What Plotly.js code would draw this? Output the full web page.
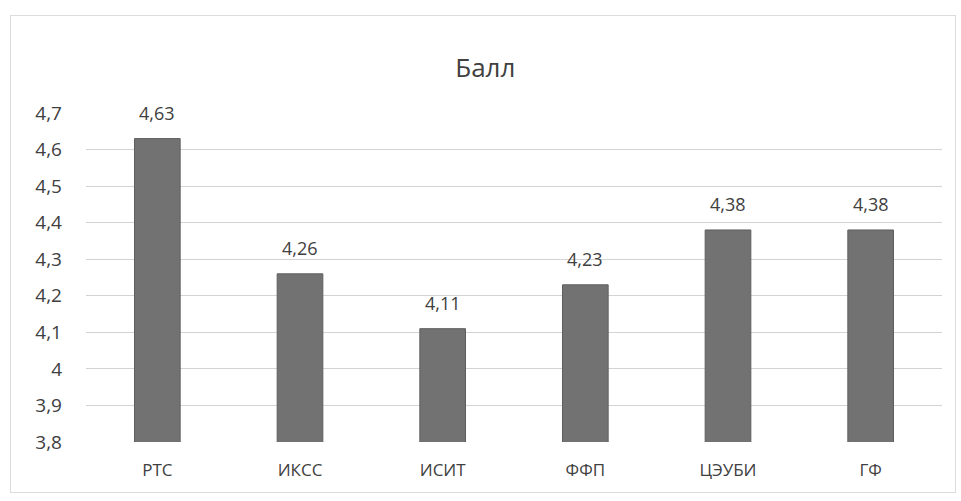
<!DOCTYPE html>
<html>
<head>
<meta charset="utf-8">
<script src="https://cdn.plot.ly/plotly-3.0.1.min.js"></script>
<style>
html,body{margin:0;padding:0;background:#fff;}
#chart{width:961px;height:501px;position:relative;}
#frame{position:absolute;left:10px;top:15px;width:944px;height:476px;border:1px solid #dcdcdc;pointer-events:none;}
</style>
</head>
<body>
<div id="chart"></div>
<div id="frame"></div>
<script>
const categories = ["РТС", "ИКСС", "ИСИТ", "ФФП", "ЦЭУБИ", "ГФ"];
const scores = [4.63, 4.26, 4.11, 4.23, 4.38, 4.38];
const titleText = "Балл";

const fontFamily = "Open Sans, Noto Sans, sans-serif";
const textColor = "#404040";

const trace = {
  type: "bar",
  x: categories,
  y: scores,
  marker: {color: "#727272", line: {color: "#5e5e5e", width: 1}},
  hoverinfo: "skip"
};

const annotations = categories.map((c, i) => ({
  x: c, y: scores[i], xref: "x", yref: "y",
  text: String(scores[i]).replace(".", ","),
  showarrow: false, yanchor: "bottom", yshift: 12,
  font: {family: fontFamily, size: 18, color: textColor}
}));

const layout = {
  width: 961, height: 501,
  margin: {l: 86, r: 19, t: 113, b: 59},
  paper_bgcolor: "#ffffff", plot_bgcolor: "#ffffff",
  separators: ", ",
  showlegend: false,
  bargap: 0.68,
  title: {text: titleText, x: 0.505, xanchor: "center", y: 0.865, yanchor: "middle",
          font: {family: fontFamily, size: 26, color: textColor}},
  xaxis: {
    type: "category",
    showgrid: false, zeroline: false,
    showline: false,
    tickfont: {family: fontFamily, size: 17, color: textColor},
    ticklabelstandoff: 16
  },
  yaxis: {
    range: [3.8, 4.7], dtick: 0.1, tick0: 3.8,
    showgrid: true, gridcolor: "#d3d3d3", gridwidth: 1,
    zeroline: false, showline: false,
    tickfont: {family: fontFamily, size: 19, color: textColor},
    ticklabelstandoff: 23
  },
  annotations: annotations
};

Plotly.newPlot("chart", [trace], layout, {staticPlot: true, displayModeBar: false});
</script>
</body>
</html>
